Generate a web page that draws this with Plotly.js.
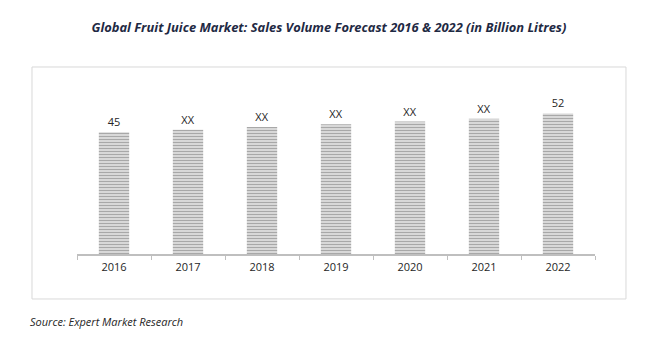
<!DOCTYPE html>
<html>
<head>
<meta charset="utf-8">
<script src="https://cdn.plot.ly/plotly-3.0.1.min.js"></script>
<style>html,body{margin:0;padding:0;background:#fff;}#chart{width:650px;height:352px;}</style>
</head>
<body>
<div id="chart"></div>
<script>
const years = ['2016', '2017', '2018', '2019', '2020', '2021', '2022'];
const volumes = [45, 46, 47, 48, 49, 50, 52];
const barLabels = ['45', 'XX', 'XX', 'XX', 'XX', 'XX', '52'];

const trace = {
  type: 'bar',
  x: years,
  y: volumes,
  text: barLabels,
  textposition: 'outside',
  textfont: {family: 'Open Sans, Liberation Sans, sans-serif', size: 11, color: '#262626'},
  cliponaxis: false,
  width: 0.41,
  marker: {
    color: '#d0d0d0',
    line: {width: 0},
    pattern: {shape: '-', fgcolor: '#a8a8a8', bgcolor: '#dedede', size: 3, solidity: 0.4}
  },
  hoverinfo: 'none'
};

const layout = {
  width: 650,
  height: 352,
  margin: {l: 77, r: 55, t: 81, b: 98},
  paper_bgcolor: '#ffffff',
  plot_bgcolor: '#ffffff',
  showlegend: false,
  title: {
    text: '<b><i>Global Fruit Juice Market: Sales Volume Forecast 2016 &amp; 2022 (in Billion Litres)</i></b>',
    font: {family: 'Open Sans, Liberation Sans, sans-serif', size: 12.9, color: '#1f2a44'},
    x: 0.506, xanchor: 'center',
    y: 0.923, yanchor: 'middle'
  },
  xaxis: {
    type: 'category',
    showline: true,
    linecolor: '#bfbfbf',
    linewidth: 1.5,
    ticks: 'outside',
    tickson: 'boundaries',
    ticklen: 4,
    tickcolor: '#bfbfbf',
    ticklabelstandoff: 2,
    tickfont: {family: 'Open Sans, Liberation Sans, sans-serif', size: 11, color: '#262626'},
    showgrid: false,
    zeroline: false,
    fixedrange: true
  },
  yaxis: {
    range: [0, 64],
    visible: false,
    showgrid: false,
    zeroline: false,
    fixedrange: true
  },
  shapes: [{
    type: 'rect', xref: 'paper', yref: 'paper',
    x0: -0.0869, x1: 1.0598, y0: -0.260, y1: 1.081,
    line: {color: '#d9d9d9', width: 1},
    fillcolor: 'rgba(0,0,0,0)',
    layer: 'below'
  }],
  annotations: [{
    text: '<i>Source: Expert Market Research</i>',
    xref: 'paper', yref: 'paper',
    x: -0.0946, xanchor: 'left',
    y: -0.393, yanchor: 'middle',
    showarrow: false,
    font: {family: 'Open Sans, Liberation Sans, sans-serif', size: 11, color: '#262626'}
  }]
};

Plotly.newPlot('chart', [trace], layout, {displayModeBar: false, staticPlot: true});
</script>
</body>
</html>
